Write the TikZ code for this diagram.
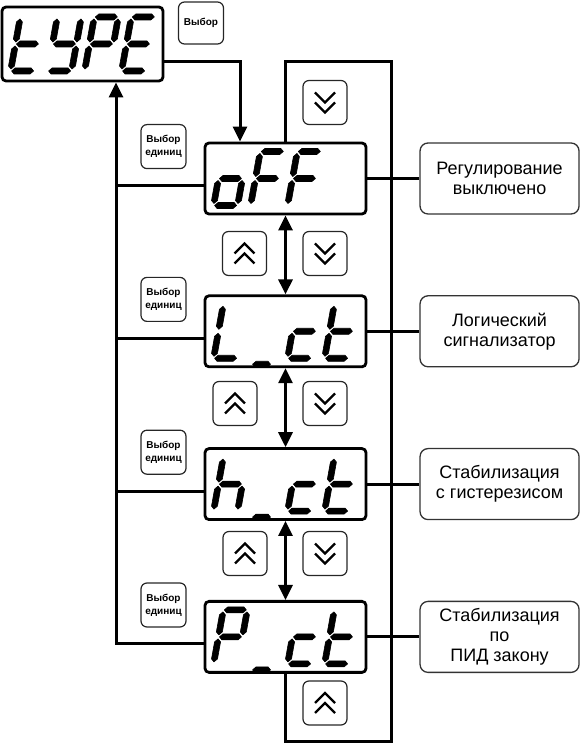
\documentclass[tikz,border=0pt]{standalone}
\usepackage{fontspec}
\setmainfont{Liberation Sans}
\usetikzlibrary{arrows.meta, positioning}

% seven-segment pieces, one cell is 24 x 54
\newcommand{\dsega}{(1,54) -- (4,57) -- (20,57) -- (23,54) -- (20,51) -- (4,51) -- cycle}
\newcommand{\dsegb}{(24,52) -- (27,49) -- (27,32) -- (24,29) -- (21,32) -- (21,49) -- cycle}
\newcommand{\dsegc}{(24,25) -- (27,22) -- (27,5) -- (24,2) -- (21,5) -- (21,22) -- cycle}
\newcommand{\dsegd}{(1,0) -- (4,3) -- (20,3) -- (23,0) -- (20,-3) -- (4,-3) -- cycle}
\newcommand{\dsege}{(0,25) -- (3,22) -- (3,5) -- (0,2) -- (-3,5) -- (-3,22) -- cycle}
\newcommand{\dsegf}{(0,52) -- (3,49) -- (3,32) -- (0,29) -- (-3,32) -- (-3,49) -- cycle}
\newcommand{\dsegg}{(1,27) -- (4,30) -- (20,30) -- (23,27) -- (20,24) -- (4,24) -- cycle}
\newcommand{\dsegu}{(3,-6) -- (6,-3) -- (18,-3) -- (21,-6) -- (18,-9) -- (6,-9) -- cycle}

% characters as lists of segments
\newcommand{\dchart}{d,e,f,g}
\newcommand{\dcharY}{b,c,d,f,g}
\newcommand{\dcharP}{a,b,e,f,g}
\newcommand{\dcharE}{a,d,e,f,g}
\newcommand{\dcharo}{c,d,e,g}
\newcommand{\dcharF}{a,e,f,g}
\newcommand{\dcharL}{d,e,f}
\newcommand{\dcharc}{d,e,g}
\newcommand{\dcharh}{c,e,f,g}
\newcommand{\dcharu}{u}

\newcommand{\segdisplay}[2]{%
  \foreach \chr [count=\i from 0] in {#2}{%
    \begin{scope}[shift={(#1.west)}, xshift=10pt+37pt*\i, yshift=-27pt, xslant=0.18]
      \edef\seglist{\csname dchar\chr\endcsname}%
      \foreach \s in \seglist {%
        \edef\segpath{\noexpand\fill[segfill] \csname dseg\s\endcsname;}\segpath}
    \end{scope}}}

\begin{document}
\begin{tikzpicture}[
    x=1pt, y=1pt,
    node distance=79pt and 52pt,
    disp/.style={draw, line width=2.8pt, rounded corners=4pt, minimum width=161pt, minimum height=71pt},
    desc/.style={draw=black!80, line width=1.3pt, rounded corners=8pt, minimum width=159pt, minimum height=71pt, align=center, font=\fontsize{18}{20}\selectfont},
    btn/.style={draw=black!85, line width=1.2pt, rounded corners=6pt, minimum width=44pt, minimum height=44pt},
    selbtn/.style={btn, align=center, minimum width=45pt, font=\fontsize{10}{13}\selectfont\bfseries},
    conn/.style={line width=3pt},
    arrow/.style={-{Triangle[length=15pt, width=14pt]}},
    dblarrow/.style={{Triangle[length=15pt, width=14pt]}-{Triangle[length=15pt, width=14pt]}},
    segfill/.style={fill=black, draw=black, line width=0.6pt, line join=round},
    chev/.style={line width=2.4pt}
  ]
  \useasboundingbox (0,0) rectangle (579,747);

  % Parameter display and its key
  \node (type) [disp, minimum height=74pt] at (82.5,703) {};
  \node (sel) [selbtn, minimum height=42pt] at (201,724) {Выбор};

  % Mode displays
  \node (off) [disp] at (285.5,568.5) {};
  \node (Lct) [disp, below=of off] {};
  \node (hct) [disp, below=of Lct] {};
  \node (Pct) [disp, below=of hct] {};

  % Mode descriptions
  \node (dOff) [desc, right=of off] {Регулирование\\выключено};
  \node (dLct) [desc, right=of Lct] {Логический\\сигнализатор};
  \node (dhct) [desc, right=of hct] {Стабилизация\\с гистерезисом};
  \node (dPct) [desc, right=of Pct] {Стабилизация\\по\\ПИД закону};

  % Units keys
  \node (selOff) [selbtn, left=17pt of off.north west, yshift=-5pt] {Выбор\\единиц};
  \node (selLct) [selbtn, left=17pt of Lct.north west, yshift=-5pt] {Выбор\\единиц};
  \node (selhct) [selbtn, left=17pt of hct.north west, yshift=-5pt] {Выбор\\единиц};
  \node (selPct) [selbtn, left=17pt of Pct.north west, yshift=-5pt] {Выбор\\единиц};

  % Up / down keys
  \node (dnTop) [btn] at (325,644.5) {};
  \node (up1) [btn] at (244.5,493.5) {};
  \node (dn1) [btn] at (325,493.5) {};
  \node (up2) [btn] at (235,343.5) {};
  \node (dn2) [btn] at (325,343.5) {};
  \node (up3) [btn] at (245,193.5) {};
  \node (dn3) [btn] at (325,193.5) {};
  \node (upBot) [btn] at (325,44) {};

  \foreach \b in {up1,up2,up3,upBot}
    \draw[chev] ([shift={(-10,-10)}]\b.center) -- ++(10,10) -- ++(10,-10)
                ([shift={(-10,0)}]\b.center) -- ++(10,10) -- ++(10,-10);
  \foreach \b in {dnTop,dn1,dn2,dn3}
    \draw[chev] ([shift={(-10,10)}]\b.center) -- ++(10,-10) -- ++(10,10)
                ([shift={(-10,0)}]\b.center) -- ++(10,-10) -- ++(10,10);

  % Display contents
  \segdisplay{type}{t,Y,P,E}
  \segdisplay{off}{o,F,F}
  \segdisplay{Lct}{L,u,c,t}
  \segdisplay{hct}{h,u,c,t}
  \segdisplay{Pct}{P,u,c,t}

  % Right loop
  \coordinate (busTR) at (391,685);
  \coordinate (busBR) at (391,5);
  \draw[conn] (off.north) |- (busTR) -- (busBR) -| (Pct.south);
  \foreach \n/\d in {off/dOff, Lct/dLct, hct/dhct, Pct/dPct}
    \draw[conn] (\n.east) -- (\d.west);

  % Enter the list
  \draw[conn, arrow] (type.east |- busTR) -| ([xshift=-45.5pt]off.north);

  % Back to the parameter
  \coordinate (busL) at ([xshift=33.5pt]type.south);
  \foreach \n in {off,Lct,hct,Pct}
    \coordinate (b\n) at ([yshift=-7pt]\n.west);
  \draw[conn, arrow] (bPct) -| (busL);
  \foreach \n in {off,Lct,hct}
    \draw[conn] (busL |- b\n) -- (b\n);

  % Scrolling between modes
  \draw[conn, dblarrow] (off.south) -- (Lct.north);
  \draw[conn, dblarrow] (Lct.south) -- (hct.north);
  \draw[conn, dblarrow] (hct.south) -- (Pct.north);
\end{tikzpicture}
\end{document}
